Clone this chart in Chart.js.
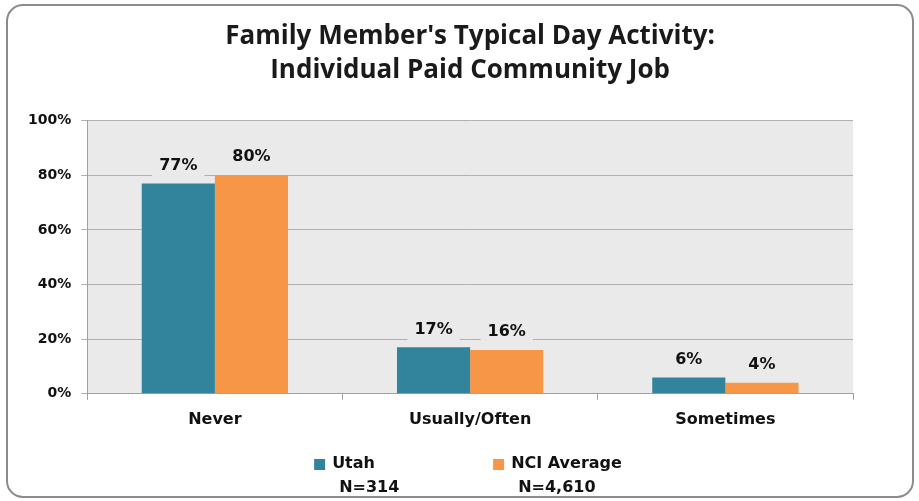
<!DOCTYPE html>
<html>
<head>
<meta charset="utf-8">
<script src="https://cdn.jsdelivr.net/npm/chart.js@4.4.0/dist/chart.umd.min.js"></script>
<style>
  html, body { margin: 0; padding: 0; background: #fff; }
  #wrap { width: 919px; height: 501px; }
</style>
</head>
<body>
<div id="wrap"><canvas id="activityChart" width="919" height="501"></canvas></div>
<script>
// chart data
const titleLines = ["Family Member's Typical Day Activity:", 'Individual Paid Community Job'];
const categories = ['Never', 'Usually/Often', 'Sometimes'];
const seriesNames = ['Utah', 'NCI Average'];
const seriesN = ['N=314', 'N=4,610'];
const utahValues = [77, 17, 6];
const nciValues = [80, 16, 4];
const yTicks = [0, 20, 40, 60, 80, 100];

const TITLE_FONT = "'Open Sans', 'Liberation Sans', sans-serif";
const FONT = "'DejaVu Sans', Verdana, sans-serif";
const PLOT_BG = '#eaeaea';
const colors = ['#31849b', '#f79646'];

// outer frame + plot area background
const frame = {
    id: 'frame',
    beforeDraw(chart) {
        const ctx = chart.ctx;
        const a = chart.chartArea;
        ctx.save();
        ctx.fillStyle = '#fff';
        ctx.fillRect(0, 0, chart.width, chart.height);
        ctx.strokeStyle = '#8c8c8c';
        ctx.lineWidth = 2;
        ctx.beginPath();
        ctx.roundRect(7, 5, 906, 492, 16);
        ctx.stroke();
        ctx.fillStyle = PLOT_BG;
        ctx.fillRect(a.left, a.top, a.right - a.left, a.bottom - a.top);
        ctx.restore();
    }
};

// value labels above bars, boxed so gridlines are hidden behind them
const barLabels = {
    id: 'barLabels',
    afterDatasetsDraw(chart) {
        const ctx = chart.ctx;
        ctx.save();
        ctx.font = 'bold 16px ' + FONT;
        ctx.textAlign = 'center';
        ctx.textBaseline = 'middle';
        chart.data.datasets.forEach((ds, i) => {
            chart.getDatasetMeta(i).data.forEach((bar, j) => {
                const txt = ds.data[j] + '%';
                const w = ctx.measureText(txt).width + 14;
                const cy = bar.y - 18;
                ctx.fillStyle = PLOT_BG;
                ctx.fillRect(bar.x - w / 2, cy - 11, w, 22);
                ctx.fillStyle = '#111';
                ctx.fillText(txt, bar.x, cy);
            });
        });
        ctx.restore();
    }
};

// legend with the sample size under each series name
const legendN = {
    id: 'legendN',
    afterDraw(chart) {
        const ctx = chart.ctx;
        const a = chart.chartArea;
        const startX = (a.left + a.right) / 2 - 156;
        ctx.save();
        ctx.font = 'bold 16px ' + FONT;
        ctx.textBaseline = 'middle';
        ctx.textAlign = 'left';
        seriesNames.forEach((name, i) => {
            const x = startX + i * 179;
            ctx.fillStyle = colors[i];
            ctx.fillRect(x, 459, 11, 11);
            ctx.fillStyle = '#111';
            ctx.fillText(name, x + 18, 464);
            ctx.fillText(seriesN[i], x + 25, 488);
        });
        ctx.restore();
    }
};

new Chart(document.getElementById('activityChart'), {
    type: 'bar',
    data: {
        labels: categories,
        datasets: [{
            label: seriesNames[0],
            data: utahValues,
            backgroundColor: colors[0]
        }, {
            label: seriesNames[1],
            data: nciValues,
            backgroundColor: colors[1]
        }]
    },
    options: {
        responsive: false,
        animation: false,
        devicePixelRatio: 1,
        categoryPercentage: 0.573,
        barPercentage: 1.0,
        layout: {
            padding: { left: 18, right: 66, top: 0, bottom: 62 }
        },
        plugins: {
            legend: { display: false },
            tooltip: { enabled: false },
            title: {
                display: true,
                fullSize: false,
                text: titleLines,
                color: '#1a1a1a',
                font: { family: TITLE_FONT, size: 26, weight: 'bold', lineHeight: 1.3 },
                padding: { top: 20, bottom: 33 }
            }
        },
        scales: {
            x: {
                grid: {
                    display: true,
                    drawOnChartArea: false,
                    color: '#a0a0a0',
                    tickLength: 6
                },
                border: { color: '#a0a0a0' },
                ticks: {
                    color: '#111',
                    padding: 10,
                    font: { family: FONT, size: 16, weight: 'bold' }
                }
            },
            y: {
                min: 0,
                max: 100,
                afterBuildTicks(axis) {
                    axis.ticks = yTicks.map(v => ({ value: v }));
                },
                grid: {
                    color: '#b0b0b0',
                    tickLength: 6
                },
                border: { color: '#a0a0a0' },
                ticks: {
                    color: '#111',
                    padding: 10,
                    font: { family: FONT, size: 14, weight: 'bold' },
                    callback: v => v + '%'
                }
            }
        }
    },
    plugins: [frame, barLabels, legendN]
});
</script>
</body>
</html>
